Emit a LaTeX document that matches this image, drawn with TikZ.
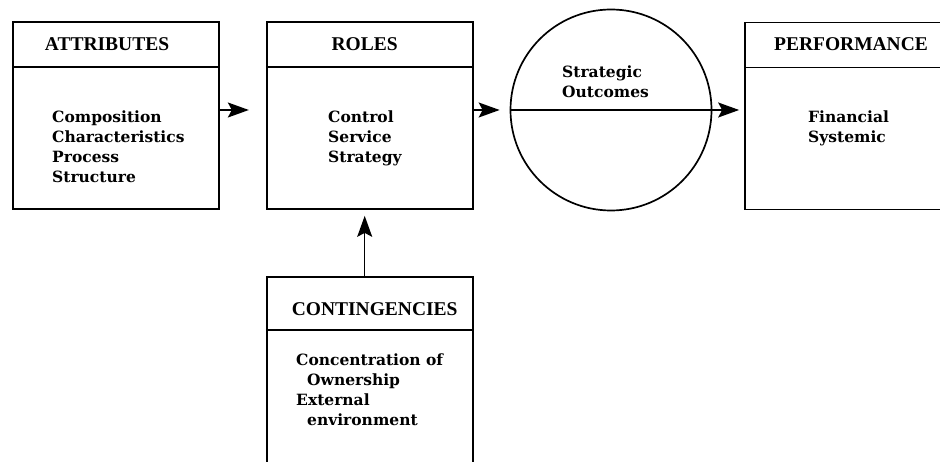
\documentclass[tikz,border=0pt]{standalone}
\usepackage{fontspec}
\setmainfont{Liberation Serif}
\newfontfamily\bodyfont{DejaVu Serif}
\usetikzlibrary{arrows.meta,positioning}

\begin{document}
\begin{tikzpicture}[
  x=1pt, y=-1pt,
  every node/.style={inner sep=0pt},
  box/.style={draw, line width=1.7pt, minimum width=206pt, minimum height=187pt},
  head/.style={font=\fontsize{19.5}{22}\selectfont\bfseries},
  items/.style={font=\bodyfont\bfseries\fontsize{15.5}{20}\selectfont, align=left, anchor=north west},
  link/.style={line width=1.5pt, -{Stealth[length=21pt,width=15pt,inset=4pt]}}
]
\clip (0,0) rectangle (940,462);

% top row
\node[box] (attr) at (116,115.5) {};
\node[box, right=46pt of attr] (roles) {};
\node[circle, draw, line width=1.7pt, minimum size=201pt] (out) at (611,110) {};
\node[box] (perf) at (848,116) {};
\node[box, minimum height=195pt, below=66pt of roles] (cont) {};

\foreach \b in {attr,roles,perf}
  \draw[line width=1.7pt] ([yshift=-46pt]\b.north west) -- ([yshift=-46pt]\b.north east);
\draw[line width=1.7pt] ([yshift=-54pt]cont.north west) -- ([yshift=-54pt]cont.north east);
\draw[line width=1.5pt] (out.west) -- (out.east);

\node[head, below=16pt of attr.north, xshift=-9pt] (attrhead) {ATTRIBUTES};
\node[head, below=16pt of roles.north, xshift=-5pt] (roleshead) {ROLES};
\node[head, below=16pt of perf.north, xshift=3pt] (perfhead) {PERFORMANCE};
\node[head, below=27pt of cont.north, xshift=5pt] (conthead) {CONTINGENCIES};

\node[items] (attritems) at (52,111) {Composition\\Characteristics\\Process\\Structure};
\node[items] (rolesitems) at (328,111) {Control\\Service\\Strategy};
\node[items] (outitems) at (562,66) {Strategic\\Outcomes};
\node[items] (perfitems) at (808,111) {Financial\\Systemic};
\node[items] (contitems) at (296,354) {Concentration of\\\hspace*{11pt}Ownership\\External\\\hspace*{11pt}environment};

% arrows
\draw[link, shorten >=17pt] (attr.east |- out.center) -- (roles.west |- out.center);
\draw[link, shorten >=10pt] (roles.east |- out.center) -- (out.west);
\draw[link, shorten >=5pt] (out.east) -- (perf.west |- out.center);
\draw[link, shorten >=6pt] ([xshift=-5pt]cont.north) -- ([xshift=-5pt]roles.south);

\end{tikzpicture}
\end{document}
